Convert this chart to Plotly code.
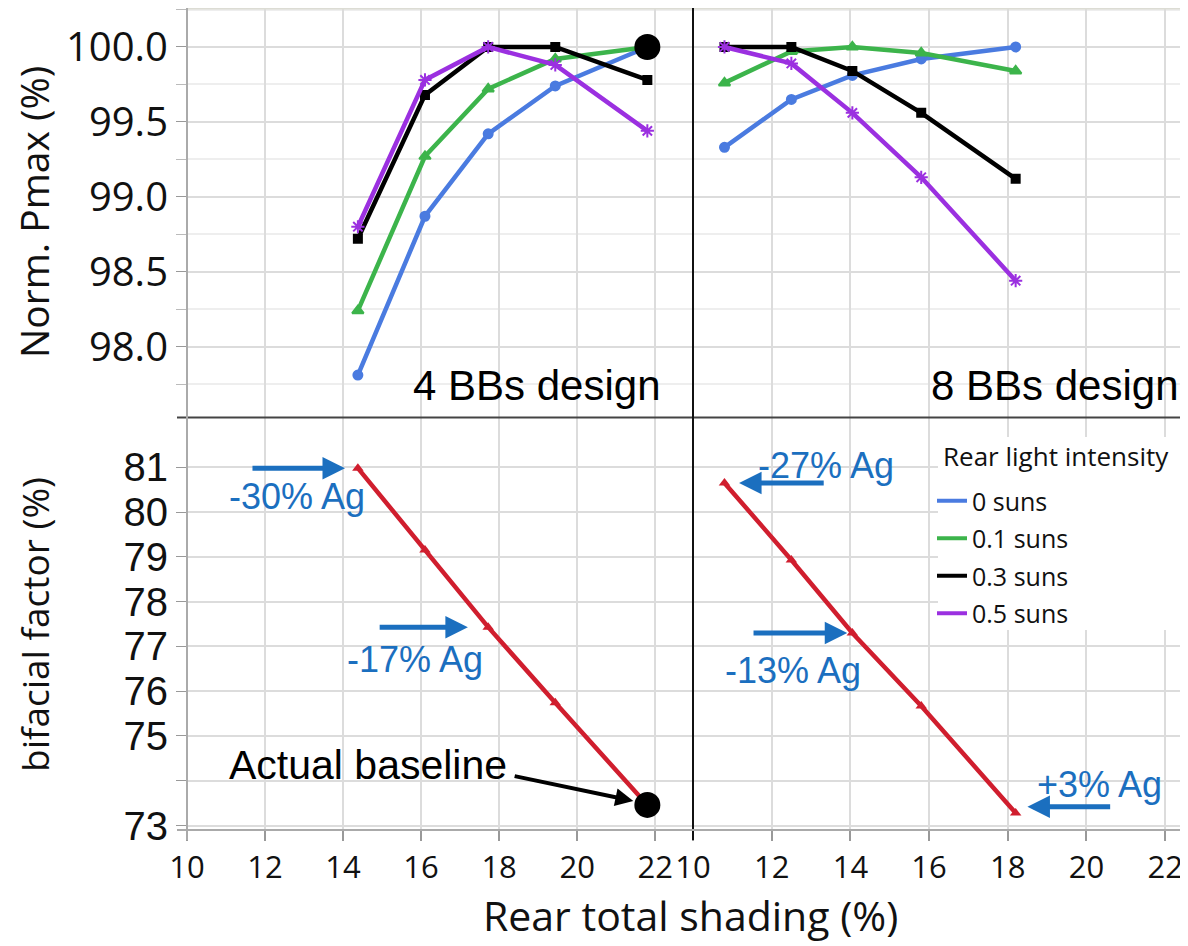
import plotly.graph_objects as go

# ---------------- data ----------------
shading_4bb = [14.38, 16.1, 17.72, 19.44, 21.8]
shading_8bb = [10.8, 12.5, 14.05, 15.8, 18.2]

series_names = ["0 suns", "0.1 suns", "0.3 suns", "0.5 suns"]

pmax_4bb_0 = [97.81, 98.87, 99.42, 99.74, 100.0]
pmax_4bb_01 = [98.24, 99.27, 99.72, 99.92, 100.0]
pmax_4bb_03 = [98.72, 99.68, 100.0, 100.0, 99.78]
pmax_4bb_05 = [98.80, 99.78, 100.0, 99.88, 99.44]

pmax_8bb_0 = [99.33, 99.65, 99.81, 99.92, 100.0]
pmax_8bb_01 = [99.76, 99.97, 100.0, 99.96, 99.84]
pmax_8bb_03 = [100.0, 100.0, 99.84, 99.56, 99.12]
pmax_8bb_05 = [100.0, 99.89, 99.56, 99.13, 98.44]

bifacial_4bb = [80.98, 79.15, 77.43, 75.74, 73.46]
bifacial_8bb = [80.65, 78.93, 77.3, 75.67, 73.28]

x_ticks = [10, 12, 14, 16, 18, 20, 22]
pmax_ticks = [98.0, 98.5, 99.0, 99.5, 100.0]
bf_ticks = [73, 74, 75, 76, 77, 78, 79, 80, 81]
bf_ticktext = ["73", "", "75", "76", "77", "78", "79", "80", "81"]

# ---------------- style ----------------
colors = ["#4a7be0", "#3cb44b", "#000000", "#9b30e0"]
symbols = ["circle", "triangle-up", "square", "asterisk-open"]
msizes = [9, 10, 8, 11]
RED = "#d01e2e"
BLUE = "#1b6fbf"
GRID = "#dcdcdc"
MINOR = "#eeeeee"
TICKF = "Open Sans, Noto Sans, sans-serif"
NARROW = "Liberation Sans Narrow, Arial Narrow, sans-serif"
ARIAL = "Liberation Sans, Arial, sans-serif"

# plot area in page pixels: x 187..1188, y 8..830 (page has an 8px body margin)
PL, PW, PB, PH = 187, 1001, 830, 822


def px(xp):
    return (xp - PL) / PW


def py(yp):
    return (PB - yp) / PH


dL = px(693)
top_dom = [py(417), 1.0]
bot_dom = [0.0, py(418)]

fig = go.Figure()

pm4 = [pmax_4bb_0, pmax_4bb_01, pmax_4bb_03, pmax_4bb_05]
pm8 = [pmax_8bb_0, pmax_8bb_01, pmax_8bb_03, pmax_8bb_05]

for i, name in enumerate(series_names):
    mk = dict(symbol=symbols[i], size=msizes[i], color=colors[i],
              line=dict(color=colors[i], width=2))
    fig.add_trace(go.Scatter(x=shading_4bb, y=pm4[i], mode="lines+markers",
                             line=dict(color=colors[i], width=4.5), marker=mk,
                             xaxis="x3", yaxis="y3", showlegend=False))
    fig.add_trace(go.Scatter(x=shading_8bb, y=pm8[i], mode="lines+markers",
                             line=dict(color=colors[i], width=4.5), marker=mk,
                             xaxis="x4", yaxis="y4", showlegend=False))

# legend-only line entries
for i, name in enumerate(series_names):
    fig.add_trace(go.Scatter(x=[None], y=[None], mode="lines", name=name,
                             line=dict(color=colors[i], width=4),
                             legendgroup=name, xaxis="x4", yaxis="y4"))

# bifacial lines
fig.add_trace(go.Scatter(x=shading_4bb, y=bifacial_4bb, mode="lines+markers",
                         line=dict(color=RED, width=4.5),
                         marker=dict(symbol="triangle-up", size=10, color=RED),
                         xaxis="x", yaxis="y", showlegend=False))
fig.add_trace(go.Scatter(x=shading_8bb, y=bifacial_8bb, mode="lines+markers",
                         line=dict(color=RED, width=4.5),
                         marker=dict(symbol="triangle-up", size=10, color=RED),
                         xaxis="x2", yaxis="y2", showlegend=False))

# actual baseline dots
fig.add_trace(go.Scatter(x=[shading_4bb[-1]], y=[pmax_4bb_0[-1]], mode="markers",
                         marker=dict(size=26, color="black"),
                         xaxis="x3", yaxis="y3", showlegend=False))
fig.add_trace(go.Scatter(x=[shading_4bb[-1]], y=[bifacial_4bb[-1]], mode="markers",
                         marker=dict(size=26, color="black"),
                         xaxis="x", yaxis="y", showlegend=False))

xcommon = dict(tickvals=x_ticks, showgrid=True, gridcolor=GRID, gridwidth=1.5,
               zeroline=False, showline=False, automargin=False)
xbot = dict(xcommon, ticks="outside", ticklen=10, tickcolor="#999999", tickwidth=1.5,
            tickfont=dict(family=TICKF, size=31, color="#111"))
xtop = dict(xcommon, showticklabels=False, ticks="")

fig.update_layout(
    width=1180, height=938,
    paper_bgcolor="white", plot_bgcolor="white",
    margin=dict(l=179, r=0, t=0, b=116, autoexpand=False),
    xaxis=dict(xbot, domain=[0, dL], range=[10, 22.97], anchor="y"),
    xaxis2=dict(xbot, domain=[dL, 1], range=[10, 22.58], anchor="y2"),
    xaxis3=dict(xtop, domain=[0, dL], range=[10, 22.97], anchor="y3"),
    xaxis4=dict(xtop, domain=[dL, 1], range=[10, 22.58], anchor="y4"),
    yaxis=dict(domain=bot_dom, range=[72.9, 82.1], anchor="x", automargin=False,
               tickvals=bf_ticks, ticktext=bf_ticktext,
               ticks="outside", ticklen=10, tickcolor="#999999",
               tickfont=dict(family=NARROW, size=40, color="#111"),
               showgrid=True, gridcolor=GRID, gridwidth=1.5, zeroline=False, showline=False),
    yaxis2=dict(domain=bot_dom, range=[72.9, 82.1], anchor="x2", automargin=False,
                tickvals=bf_ticks, showticklabels=False,
                showgrid=True, gridcolor=GRID, gridwidth=1.5, zeroline=False, showline=False),
    yaxis3=dict(domain=top_dom, range=[97.53, 100.26], anchor="x3", automargin=False,
                tickvals=pmax_ticks, ticktext=["98.0", "98.5", "99.0", "99.5", "100.0"],
                ticks="outside", ticklen=10, tickcolor="#999999",
                tickfont=dict(family=TICKF, size=40, color="#111"),
                minor=dict(dtick=0.25, tick0=97.75, showgrid=True, gridcolor=MINOR,
                           ticks="outside", ticklen=10, tickcolor="#bbbbbb"),
                showgrid=True, gridcolor=GRID, gridwidth=1.5, zeroline=False, showline=False),
    yaxis4=dict(domain=top_dom, range=[97.53, 100.26], anchor="x4", automargin=False,
                tickvals=pmax_ticks, showticklabels=False,
                minor=dict(dtick=0.25, tick0=97.75, showgrid=True, gridcolor=MINOR),
                showgrid=True, gridcolor=GRID, gridwidth=1.5, zeroline=False, showline=False),
    legend=dict(x=px(932), y=py(478), xanchor="left", yanchor="top",
                bgcolor="rgba(255,255,255,0)", borderwidth=0,
                font=dict(family=TICKF, size=25, color="#111"),
                itemwidth=30, tracegroupgap=2),
    showlegend=True,
)

# frame / divider lines + legend background box
shapes = [
    dict(type="rect", xref="paper", yref="paper", x0=px(938), x1=1.0,
         y0=py(630), y1=py(437), fillcolor="white", line=dict(width=0), layer="above"),
    dict(type="line", xref="paper", yref="paper", x0=0, x1=1, y0=1, y1=1,
         line=dict(color="#dcdcd4", width=3)),
    dict(type="line", xref="paper", yref="paper", x0=px(177), x1=1, y0=py(417.5), y1=py(417.5),
         line=dict(color="#444444", width=2)),
    dict(type="line", xref="paper", yref="paper", x0=dL, x1=dL, y0=py(840), y1=1,
         line=dict(color="#111111", width=2)),
    dict(type="line", xref="paper", yref="paper", x0=0, x1=0, y0=py(840), y1=1,
         line=dict(color="#aaaaaa", width=2)),
    dict(type="line", xref="paper", yref="paper", x0=px(177), x1=1, y0=0, y1=0,
         line=dict(color="#aaaaaa", width=2)),
]
fig.update_layout(shapes=shapes)

ann = []
# legend title
ann.append(dict(text="Rear light intensity", xref="paper", yref="paper",
                x=px(941), y=py(456), xanchor="left", yanchor="middle", showarrow=False,
                font=dict(family=TICKF, size=26, color="#111")))
# axis titles
ann.append(dict(text="Norm. Pmax (%)", xref="paper", yref="paper",
                x=px(33), y=py(212), textangle=-90, showarrow=False,
                font=dict(family=TICKF, size=39, color="#111"),
                xanchor="center", yanchor="middle"))
ann.append(dict(text="bifacial factor (%)", xref="paper", yref="paper",
                x=px(34), y=py(625), textangle=-90, showarrow=False,
                font=dict(family=TICKF, size=37, color="#111"),
                xanchor="center", yanchor="middle"))
ann.append(dict(text="Rear total shading (%)", xref="paper", yref="paper",
                x=px(690), y=py(915), showarrow=False,
                font=dict(family=TICKF, size=41, color="#111"),
                xanchor="center", yanchor="middle"))
# design labels
ann.append(dict(text="4 BBs design", xref="x3", yref="y3", x=18.97, y=97.74,
                showarrow=False, font=dict(family=ARIAL, size=42, color="black")))
ann.append(dict(text="8 BBs design", xref="x4", yref="y4", x=19.19, y=97.74,
                showarrow=False, font=dict(family=ARIAL, size=42, color="black")))


# Ag labels
def label(text, xr, yr, x, y, color=BLUE, size=36):
    ann.append(dict(text=text, xref=xr, yref=yr, x=x, y=y, showarrow=False,
                    font=dict(family=ARIAL, size=size, color=color)))


def arrow(xr, yr, x0, y0, x1, y1, color=BLUE, width=5):
    ann.append(dict(text="", xref=xr, yref=yr, axref=xr, ayref=yr,
                    x=x1, y=y1, ax=x0, ay=y0, showarrow=True,
                    arrowhead=2, arrowsize=0.9, arrowwidth=width, arrowcolor=color))


label("-30% Ag", "x", "y", 12.82, 80.34)
arrow("x", "y", 11.64, 80.98, 14.05, 80.98)
label("-17% Ag", "x", "y", 15.85, 76.7)
arrow("x", "y", 14.9, 77.43, 17.2, 77.43)
label("Actual baseline", "x", "y", 14.64, 74.35, color="black", size=41)
arrow("x", "y", 18.36, 74.11, 21.44, 73.55, color="black", width=4)

label("-27% Ag", "x2", "y2", 13.38, 81.05)
arrow("x2", "y2", 13.36, 80.65, 11.17, 80.65)
label("-13% Ag", "x2", "y2", 12.54, 76.47)
arrow("x2", "y2", 11.5, 77.3, 13.92, 77.3)
label("+3% Ag", "x2", "y2", 20.33, 73.91)
arrow("x2", "y2", 20.64, 73.42, 18.5, 73.42)

fig.update_layout(annotations=ann)

fig.write_html("out.html")
